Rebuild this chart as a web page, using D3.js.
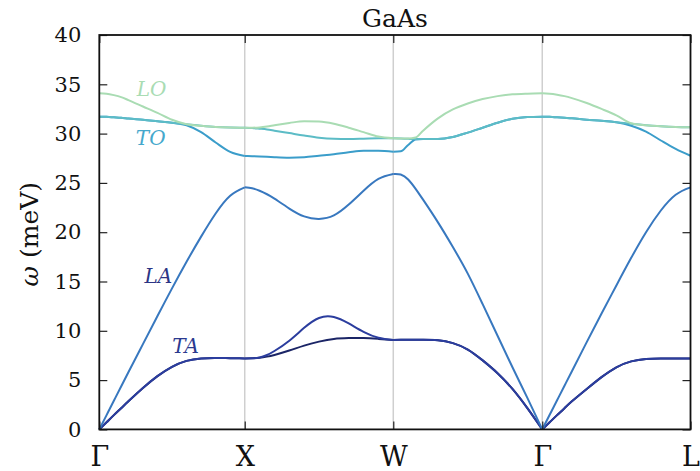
<!DOCTYPE html>
<html><head><meta charset="utf-8">
<script src="https://cdn.jsdelivr.net/npm/d3@7"></script>
<style>body{margin:0;background:#fff} svg{display:block}</style>
</head><body><svg id="chart" width="700" height="471"></svg>
<script>
// ---- data ----
const title = "GaAs";
const kLabels = ["Γ", "X", "W", "Γ", "L"];
const kPositions = [0, 0.984, 1.989, 2.997, 4];
const segFractions = [0, 0.05, 0.1, 0.15, 0.2, 0.3, 0.4, 0.5, 0.6, 0.7, 0.8, 0.9, 1];
const yTicks = [0, 5, 10, 15, 20, 25, 30, 35, 40];

// band values (meV) per segment: Γ-X, X-W, W-Γ, Γ-L
const band1 = [
  [0, 0.72, 1.45, 2.15, 2.85, 4.2, 5.4, 6.35, 6.95, 7.2, 7.25, 7.22, 7.2],
  [7.2, 7.22, 7.27, 7.38, 7.55, 8.0, 8.5, 8.9, 9.18, 9.27, 9.27, 9.18, 9.07],
  [9.07, 9.08, 9.1, 9.1, 9.1, 9.05, 8.75, 8.1, 7.0, 5.7, 4.1, 2.15, 0],
  [0, 0.72, 1.45, 2.15, 2.85, 4.1, 5.3, 6.3, 6.9, 7.15, 7.2, 7.2, 7.2]
];
const band2 = [
  [0, 0.72, 1.45, 2.15, 2.85, 4.2, 5.4, 6.35, 6.95, 7.2, 7.25, 7.22, 7.2],
  [7.2, 7.22, 7.3, 7.55, 7.95, 9.0, 10.3, 11.3, 11.4, 10.75, 9.9, 9.3, 9.07],
  [9.07, 9.08, 9.1, 9.1, 9.1, 9.05, 8.75, 8.1, 7.0, 5.7, 4.1, 2.15, 0],
  [0, 0.72, 1.45, 2.15, 2.85, 4.1, 5.3, 6.3, 6.9, 7.15, 7.2, 7.2, 7.2]
];
const band3 = [
  [0, 1.45, 2.9, 4.35, 5.8, 8.65, 11.5, 14.3, 17.0, 19.55, 21.9, 23.7, 24.55],
  [24.55, 24.45, 24.2, 23.85, 23.4, 22.4, 21.6, 21.35, 21.7, 22.8, 24.2, 25.4, 25.9],
  [25.9, 25.85, 25.35, 24.4, 23.3, 21.0, 18.5, 15.8, 12.7, 9.5, 6.3, 3.2, 0],
  [0, 1.48, 2.95, 4.43, 5.9, 8.85, 11.75, 14.6, 17.4, 20.0, 22.2, 23.8, 24.55]
];
const band4 = [
  [31.72, 31.7, 31.65, 31.6, 31.52, 31.4, 31.25, 31.1, 30.85, 30.15, 29.1, 28.15, 27.73],
  [27.73, 27.71, 27.68, 27.64, 27.6, 27.55, 27.6, 27.75, 27.9, 28.1, 28.25, 28.25, 28.15],
  [28.15, 28.2, 28.85, 29.4, 29.45, 29.45, 29.65, 30.1, 30.6, 31.1, 31.5, 31.68, 31.72],
  [31.72, 31.7, 31.65, 31.6, 31.55, 31.4, 31.3, 31.15, 30.8, 30.2, 29.3, 28.45, 27.75]
];
const band5 = [
  [31.72, 31.7, 31.65, 31.6, 31.52, 31.4, 31.25, 31.1, 30.95, 30.8, 30.68, 30.62, 30.6],
  [30.6, 30.57, 30.5, 30.42, 30.3, 30.05, 29.8, 29.58, 29.47, 29.45, 29.48, 29.52, 29.52],
  [29.52, 29.5, 29.47, 29.45, 29.45, 29.45, 29.65, 30.1, 30.6, 31.1, 31.5, 31.68, 31.72],
  [31.72, 31.7, 31.65, 31.6, 31.55, 31.4, 31.3, 31.15, 31.0, 30.85, 30.75, 30.68, 30.65]
];
const band6 = [
  [34.1, 34.05, 33.9, 33.7, 33.4, 32.75, 32.1, 31.4, 30.95, 30.8, 30.68, 30.62, 30.6],
  [30.6, 30.6, 30.63, 30.72, 30.85, 31.08, 31.25, 31.22, 31.0, 30.6, 30.15, 29.7, 29.52],
  [29.52, 29.5, 29.5, 29.6, 30.3, 31.55, 32.45, 33.05, 33.5, 33.8, 33.98, 34.05, 34.08],
  [34.08, 34.05, 33.95, 33.8, 33.6, 33.1, 32.5, 31.85, 31.05, 30.85, 30.75, 30.68, 30.65]
];
const bands = [band1, band2, band3, band4, band5, band6];
const bandColors = ["#1b2566", "#2b3d9e", "#3878bf", "#3b9dca", "#5cbcc6", "#a9dcb3"];

const branchLabels = ["LO", "TO", "LA", "TA"];
const branchLabelK = [0.253, 0.247, 0.305, 0.494];
const branchLabelE = [33.84, 28.86, 14.88, 7.78];
const branchLabelColors = ["#a9dcb3", "#45a8cc", "#2b3585", "#2b3a8f"];

// ---- drawing ----
const svg = d3.select("#chart");
const x0 = 99.3, x1 = 690.5, yTop = 35, yBot = 429.4;
const x = d3.scaleLinear().domain([0, 4]).range([x0, x1]);
const y = d3.scaleLinear().domain([0, 40]).range([yBot, yTop]);

// vertical grid lines at interior high-symmetry points
svg.append("g").selectAll("line")
  .data(kPositions.slice(1, -1))
  .join("line")
  .attr("x1", d => x(d)).attr("x2", d => x(d))
  .attr("y1", yTop).attr("y2", yBot)
  .attr("stroke", "#cfcfcf").attr("stroke-width", 1.5);

const acousticLine = d3.line().x(d => x(d[0])).y(d => y(d[1])).curve(d3.curveNatural);
const opticLine = d3.line().x(d => x(d[0])).y(d => y(d[1])).curve(d3.curveMonotoneX);

const gBands = svg.append("g");
bands.forEach((band, bi) => {
  const gen = bi < 3 ? acousticLine : opticLine;
  band.forEach((seg, si) => {
    const ka = kPositions[si], kb = kPositions[si + 1];
    const pts = seg.map((v, i) => [ka + segFractions[i] * (kb - ka), v]);
    gBands.append("path")
      .attr("d", gen(pts))
      .attr("fill", "none")
      .attr("stroke", bandColors[bi])
      .attr("stroke-width", 2)
      .attr("stroke-linejoin", "round");
  });
});

// branch labels
svg.append("g").selectAll("text")
  .data(branchLabels)
  .join("text")
  .attr("x", (d, i) => x(branchLabelK[i]))
  .attr("y", (d, i) => y(branchLabelE[i]))
  .attr("fill", (d, i) => branchLabelColors[i])
  .attr("font-family", "DejaVu Serif")
  .attr("font-style", "italic")
  .attr("font-size", 20)
  .text(d => d);

// axes
const font = "DejaVu Serif";
const yLeft = svg.append("g").attr("transform", `translate(${x0},0)`)
  .call(d3.axisLeft(y).tickValues(yTicks).tickSize(-8).tickPadding(18).tickFormat(d3.format("d")));
const yRight = svg.append("g").attr("transform", `translate(${x1},0)`)
  .call(d3.axisRight(y).tickValues(yTicks).tickSize(-8).tickFormat(""));
const xBottom = svg.append("g").attr("transform", `translate(0,${yBot})`)
  .call(d3.axisBottom(x).tickValues(kPositions).tickSize(-8).tickPadding(17).tickFormat((d, i) => kLabels[i]));
const xTop = svg.append("g").attr("transform", `translate(0,${yTop})`)
  .call(d3.axisTop(x).tickValues(kPositions).tickSize(-8).tickFormat(""));

[yLeft, yRight, xBottom, xTop].forEach(g => {
  g.select(".domain").remove();
  g.selectAll(".tick line").attr("stroke", "#222").attr("stroke-width", 1.2);
  g.selectAll("text").attr("font-family", font).attr("fill", "#111");
});
yLeft.selectAll("text").attr("font-size", 21);
xBottom.selectAll("text").attr("font-size", 27);

// frame
svg.append("rect")
  .attr("x", x0).attr("y", yTop)
  .attr("width", x1 - x0).attr("height", yBot - yTop)
  .attr("fill", "none").attr("stroke", "#111").attr("stroke-width", 1.8);

// title
svg.append("text")
  .attr("x", (x0 + x1) / 2).attr("y", 27)
  .attr("text-anchor", "middle")
  .attr("font-family", font).attr("font-size", 25).attr("fill", "#111")
  .text(title);

// y label
const yl = svg.append("text")
  .attr("transform", `translate(38,${(yTop + yBot) / 2 + 2}) rotate(-90)`)
  .attr("text-anchor", "middle")
  .attr("font-family", font).attr("font-size", 25).attr("fill", "#111");
yl.append("tspan").attr("font-style", "italic").text("ω");
yl.append("tspan").text(" (meV)");
</script>
</body></html>
